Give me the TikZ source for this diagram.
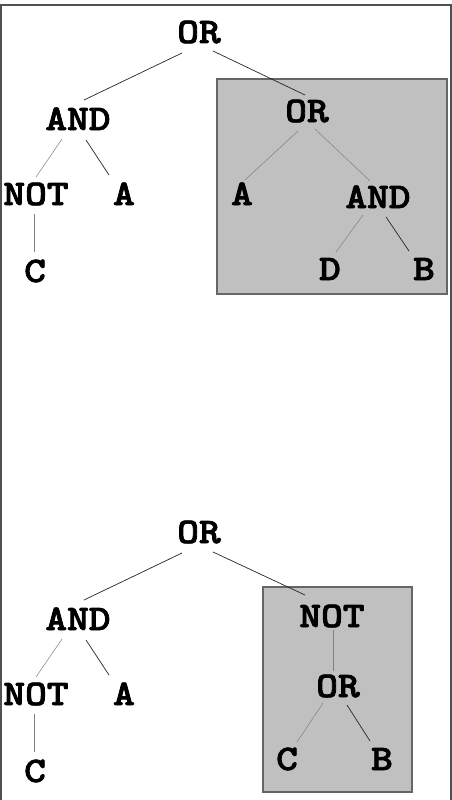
\documentclass[tikz,border=0pt]{standalone}
\usepackage{fontspec}
\newfontfamily\labelfont{lmmonolt10-bold}[Extension=.otf, FakeBold=2]
\usetikzlibrary{calc}
\definecolor{panelfill}{HTML}{C0C0C0}
\definecolor{paneledge}{HTML}{666666}
\definecolor{framegray}{HTML}{505050}
\newcommand{\wideword}[1]{\scalebox{1.15}[1]{#1}}
\tikzset{
  lbl/.style={anchor=base, inner sep=0pt, font=\fontsize{36}{36}\selectfont\labelfont},
  edge/.style={line width=0.7pt, draw=black!85},
  fedge/.style={line width=0.5pt, draw=black!50},
  panel/.style={fill=panelfill, draw=paneledge, line width=1.2pt},
  frameline/.style={draw=framegray, line width=2pt},
}
\begin{document}
\begin{tikzpicture}[x=1pt, y=-1pt]
\useasboundingbox (0,0) rectangle (452,800);
\fill[white] (0,0) rectangle (452,800);

% outer frame, open at the bottom
\draw[frameline] (1,800) -- (1,5.5) -- (450.5,5.5) -- (450.5,800);

% highlighted sub-trees
\draw[panel] (217,79) rectangle (447,294);
\draw[panel] (263,587) rectangle (412,792);

% ---------- upper tree ----------
\node[lbl] (or1)  at (199,43)  {\wideword{OR}};
\node[lbl] (and1) at (78,130)  {\wideword{AND}};
\node[lbl] (not1) at (36,205)  {\wideword{NOT}};
\node[lbl] (a1)   at (124,205) {\wideword{A}};
\node[lbl] (c1)   at (35,282)  {\wideword{C}};
\node[lbl] (or2)  at (307,122) {\wideword{OR}};
\node[lbl] (a2)   at (242,205) {\wideword{A}};
\node[lbl] (and2) at (378,208) {\wideword{AND}};
\node[lbl] (d2)   at (330,280) {\wideword{D}};
\node[lbl] (b2)   at (424,280) {\wideword{B}};

\draw[edge]  ($(or1.base)+(-17,10)$) -- ($(and1.base)+(6,-30)$);
\draw[edge]  ($(or1.base)+(14,8)$)   -- ($(or2.base)+(-2,-27)$);
\draw[fedge] ($(and1.base)+(-16,9)$) -- ($(not1.base)+(0,-28)$);
\draw[edge]  ($(and1.base)+(8,10)$)  -- ($(a1.base)+(-15,-30)$);
\draw[fedge] ($(not1.base)+(-2,9)$)  -- ($(c1.base)+(-1,-30)$);
\draw[fedge] ($(or2.base)+(-9,9)$)   -- ($(a2.base)+(3,-25)$);
\draw[fedge] ($(or2.base)+(8,7)$)    -- ($(and2.base)+(-8,-27)$);
\draw[fedge] ($(and2.base)+(-15,7)$) -- ($(d2.base)+(6,-28)$);
\draw[edge]  ($(and2.base)+(8,9)$)   -- ($(b2.base)+(-15,-29)$);

% ---------- lower tree ----------
\node[lbl] (or3)  at (199,543) {\wideword{OR}};
\node[lbl] (and3) at (78,630)  {\wideword{AND}};
\node[lbl] (not3) at (36,705)  {\wideword{NOT}};
\node[lbl] (a3)   at (124,705) {\wideword{A}};
\node[lbl] (c3)   at (35,782)  {\wideword{C}};
\node[lbl] (not4) at (332,627) {\wideword{NOT}};
\node[lbl] (or4)  at (338,697) {\wideword{OR}};
\node[lbl] (c4)   at (287,770) {\wideword{C}};
\node[lbl] (b4)   at (382,770) {\wideword{B}};

\draw[edge]  ($(or3.base)+(-17,10)$) -- ($(and3.base)+(6,-30)$);
\draw[edge]  ($(or3.base)+(14,9)$)   -- ($(not4.base)+(-27,-32)$);
\draw[fedge] ($(and3.base)+(-16,9)$) -- ($(not3.base)+(0,-28)$);
\draw[edge]  ($(and3.base)+(8,10)$)  -- ($(a3.base)+(-15,-30)$);
\draw[fedge] ($(not3.base)+(-2,9)$)  -- ($(c3.base)+(-1,-30)$);
\draw[fedge] ($(not4.base)+(1,3)$)   -- ($(or4.base)+(-5,-26)$);
\draw[fedge] ($(or4.base)+(-15,6)$)  -- ($(c4.base)+(10,-28)$);
\draw[edge]  ($(or4.base)+(9,8)$)    -- ($(b4.base)+(-12,-29)$);
\end{tikzpicture}
\end{document}
